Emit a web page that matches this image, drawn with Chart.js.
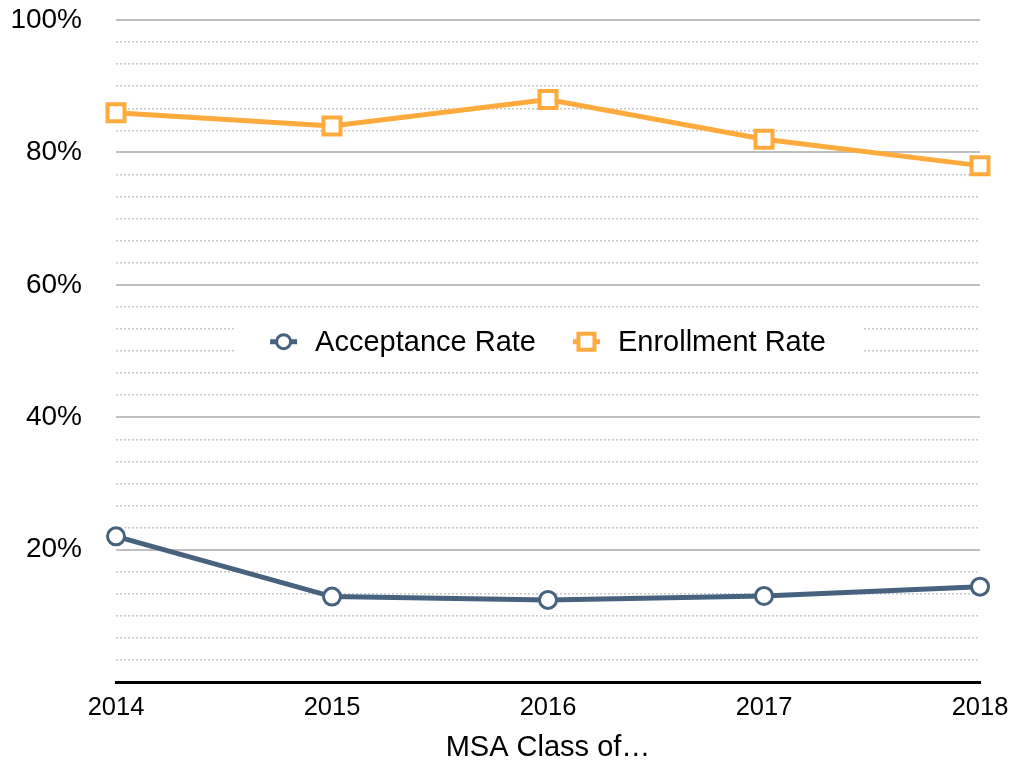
<!DOCTYPE html>
<html>
<head>
<meta charset="utf-8">
<script src="https://cdn.jsdelivr.net/npm/chart.js@4/dist/chart.umd.min.js"></script>
<style>
  body { margin: 0; background: #fff; }
  #wrap { width: 1013px; height: 765px; }
</style>
</head>
<body>
<div id="wrap"><canvas id="rateChart" width="1013" height="765"></canvas></div>
<script>
const classYears = ['2014', '2015', '2016', '2017', '2018'];
const acceptanceRate = [22, 12.9, 12.4, 13, 14.4];
const enrollmentRate = [86, 84, 88, 82, 78];
const majorStep = 20;
const minorStep = 20 / 6;

const FONT = '"Liberation Sans", Arial, Helvetica, sans-serif';
const TEXT_COLOR = '#000';
const ACCEPT_COLOR = '#47627e';
const ENROLL_COLOR = '#ffaa3c';

const isMajor = v => Math.abs(v / majorStep - Math.round(v / majorStep)) < 1e-6;

// legend sits inside the plot, on a white patch over the grid
const inlineLegend = {
    id: 'inlineLegend',
    afterDatasetsDraw(chart) {
        const { ctx, chartArea } = chart;
        ctx.save();
        ctx.font = '29px ' + FONT;
        const markW = 27, markGap = 18, itemGap = 37;
        const items = chart.data.datasets.map(ds => ({ ds, w: ctx.measureText(ds.label).width }));
        const total = items.reduce((s, it) => s + markW + markGap + it.w, 0) + itemGap * (items.length - 1);
        let x = (chartArea.left + chartArea.right) / 2 - total / 2;
        const y = chartArea.top + chartArea.height * 0.486;

        ctx.fillStyle = '#fff';
        ctx.fillRect(x - 34, y - 22, total + 71, 44);

        items.forEach(it => {
            const ds = it.ds;
            const cx = x + markW / 2;
            ctx.strokeStyle = ds.borderColor;
            ctx.lineWidth = 5;
            ctx.beginPath();
            ctx.moveTo(x, y);
            ctx.lineTo(x + markW, y);
            ctx.stroke();
            ctx.fillStyle = '#fff';
            ctx.lineWidth = ds.pointBorderWidth;
            if (ds.pointStyle === 'rect') {
                ctx.fillRect(cx - 8, y - 8, 16, 16);
                ctx.strokeRect(cx - 8, y - 8, 16, 16);
            } else {
                ctx.beginPath();
                ctx.arc(cx, y, 7, 0, Math.PI * 2);
                ctx.fill();
                ctx.stroke();
            }
            ctx.fillStyle = TEXT_COLOR;
            ctx.textAlign = 'left';
            ctx.textBaseline = 'middle';
            ctx.fillText(ds.label, x + markW + markGap, y + 1);
            x += markW + markGap + it.w + itemGap;
        });
        ctx.restore();
    }
};

new Chart(document.getElementById('rateChart'), {
    type: 'line',
    data: {
        labels: classYears,
        datasets: [
            {
                label: 'Acceptance Rate',
                data: acceptanceRate,
                borderColor: ACCEPT_COLOR,
                borderWidth: 5,
                pointStyle: 'circle',
                pointRadius: 8.5,
                pointHoverRadius: 8.5,
                pointBorderWidth: 3,
                pointBackgroundColor: '#fff',
                pointBorderColor: ACCEPT_COLOR,
                tension: 0
            },
            {
                label: 'Enrollment Rate',
                data: enrollmentRate,
                borderColor: ENROLL_COLOR,
                borderWidth: 5,
                pointStyle: 'rect',
                pointRadius: 12,
                pointHoverRadius: 12,
                pointBorderWidth: 4,
                pointBackgroundColor: '#fff',
                pointBorderColor: ENROLL_COLOR,
                tension: 0
            }
        ]
    },
    options: {
        responsive: false,
        devicePixelRatio: 1,
        animation: false,
        layout: { padding: { top: 20, right: 33, left: 0, bottom: 0 } },
        plugins: {
            legend: { display: false },
            tooltip: { enabled: false }
        },
        scales: {
            x: {
                type: 'category',
                offset: false,
                afterFit: s => { s.height = 83; s.paddingLeft = 0; s.paddingRight = 0; },
                grid: { color: 'transparent', drawTicks: false },
                border: { color: '#000', width: 3 },
                ticks: {
                    padding: 11,
                    maxRotation: 0,
                    autoSkip: false,
                    color: TEXT_COLOR,
                    font: { family: FONT, size: 25.5 }
                },
                title: {
                    display: true,
                    text: 'MSA Class of…',
                    color: TEXT_COLOR,
                    font: { family: FONT, size: 29, lineHeight: 1 },
                    padding: { top: 0, bottom: 3 }
                }
            },
            y: {
                min: 0,
                max: 100,
                afterFit: s => { s.width = 116; s.paddingTop = 0; s.paddingBottom = 0; },
                grid: {
                    drawTicks: false,
                    lineWidth: 2,
                    color: c => (c.tick && c.tick.value === 0) ? 'transparent' : '#bfbfbf'
                },
                border: { display: false },
                ticks: {
                    stepSize: majorStep,
                    padding: 34,
                    color: TEXT_COLOR,
                    font: { family: FONT, size: 28 },
                    callback: v => v === 0 ? '' : v + '%'
                }
            },
            yMinor: {
                position: 'right',
                min: 0,
                max: 100,
                afterFit: s => { s.width = 0; s.paddingTop = 0; s.paddingBottom = 0; },
                grid: {
                    drawTicks: false,
                    lineWidth: 1.5,
                    color: c => (c.tick && isMajor(c.tick.value)) ? 'transparent' : '#c8c8c8'
                },
                border: { display: false, dash: [2, 2] },
                ticks: { display: false, stepSize: minorStep }
            }
        }
    },
    plugins: [inlineLegend]
});
</script>
</body>
</html>
